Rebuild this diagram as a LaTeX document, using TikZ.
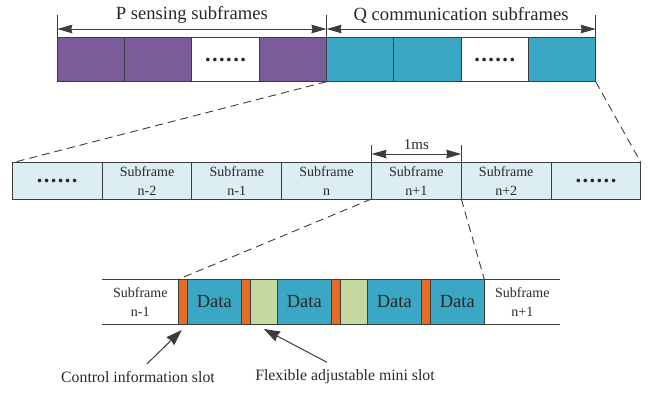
\documentclass[tikz,border=0pt]{standalone}
\usepackage{fontspec}
\setmainfont{Liberation Serif}
\usetikzlibrary{calc,positioning,arrows.meta}

\definecolor{sensepurple}{RGB}{122,92,154}
\definecolor{commteal}{RGB}{58,168,196}
\definecolor{framebg}{RGB}{220,238,244}
\definecolor{ctrlorange}{RGB}{232,108,36}
\definecolor{minigreen}{RGB}{197,216,160}
\definecolor{edgegray}{RGB}{60,60,60}
\definecolor{textgray}{RGB}{40,40,40}

\newcommand{\sixdots}{.\kern1.4pt.\kern1.4pt.\kern1.4pt.\kern1.4pt.\kern1.4pt.}

\begin{document}
\begin{tikzpicture}[
  x=1pt, y=-1pt, >=Stealth,
  every node/.style={text=textgray},
  dotrow/.style={font=\fontsize{22.5}{22.5}\selectfont\bfseries},
  topbox/.style={draw=edgegray, line width=1pt, outer sep=0pt, inner sep=0pt,
    minimum width=67.3pt, minimum height=44.4pt},
  cell/.style={draw=edgegray, line width=1pt, outer sep=0pt, inner sep=0pt,
    minimum width=89.8pt, minimum height=36.3pt, fill=framebg, align=center,
    font=\fontsize{14}{18.5}\selectfont},
  slot/.style={draw=edgegray, line width=1pt, outer sep=0pt, inner sep=0pt,
    minimum height=44.7pt, font=\fontsize{18.5}{22}\selectfont},
  ctrlslot/.style={slot, fill=ctrlorange, minimum width=9pt},
  dataslot/.style={slot, fill=commteal, minimum width=54pt},
  minislot/.style={slot, fill=minigreen, minimum width=27pt},
  sideframe/.style={outer sep=0pt, inner sep=0pt, minimum width=76pt,
    minimum height=44.7pt, align=center, font=\fontsize{14}{19}\selectfont},
  dimline/.style={line width=1pt, draw=edgegray,
    {Stealth[length=15pt,width=8.5pt,inset=1pt]}-{Stealth[length=15pt,width=8.5pt,inset=1pt]}},
  zoomline/.style={draw=edgegray, line width=0.9pt, dash pattern=on 8pt off 5pt},
  pointer/.style={draw=edgegray, line width=1pt, -{Stealth[length=16pt,width=11pt,inset=1pt]}},
  note/.style={font=\fontsize{15.8}{19}\selectfont}
]
  \useasboundingbox (0,0) rectangle (657,392);

  % frame of sensing and communication subframes
  \node[topbox, fill=sensepurple, anchor=north west] (p1) at (57.3,37.3) {};
  \node[topbox, fill=sensepurple, right=0pt of p1] (p2) {};
  \node[topbox, fill=white, right=0pt of p2, dotrow] (pdots) {\sixdots};
  \node[topbox, fill=sensepurple, right=0pt of pdots] (p4) {};
  \node[topbox, fill=commteal, right=0pt of p4] (q1) {};
  \node[topbox, fill=commteal, right=0pt of q1] (q2) {};
  \node[topbox, fill=white, right=0pt of q2, dotrow] (qdots) {\sixdots};
  \node[topbox, fill=commteal, right=0pt of qdots] (q4) {};

  \draw[edgegray, line width=1pt] (p1.north west) -- ++(0,-22.3);
  \draw[edgegray, line width=1pt] (q1.north west) -- ++(0,-22.3);
  \draw[edgegray, line width=1pt] (q4.north east) -- ++(0,-22.3);
  \draw[dimline] ($(p1.north west)+(0,-8.3)$) --
    node[above=2pt, font=\fontsize{18.6}{22}\selectfont] (plabel) {P sensing subframes}
    ($(q1.north west)+(0,-8.3)$);
  \draw[dimline] ($(q1.north west)+(0,-8.3)$) --
    node[above=2pt, font=\fontsize{18.6}{22}\selectfont] (qlabel) {Q communication subframes}
    ($(q4.north east)+(0,-8.3)$);

  % run of subframes
  \node[cell, anchor=north west, dotrow] (m1) at (12.3,162.7) {\sixdots};
  \node[cell, right=0pt of m1] (m2) {Subframe\\n-2};
  \node[cell, right=0pt of m2] (m3) {Subframe\\n-1};
  \node[cell, right=0pt of m3] (m4) {Subframe\\n};
  \node[cell, right=0pt of m4] (m5) {Subframe\\n+1};
  \node[cell, right=0pt of m5] (m6) {Subframe\\n+2};
  \node[cell, right=0pt of m6, dotrow] (m7) {\sixdots};

  \draw[edgegray, line width=1pt] (m5.north west) -- ++(0,-17.7);
  \draw[edgegray, line width=1pt] (m5.north east) -- ++(0,-17.7);
  \draw[dimline] ($(m5.north west)+(0,-8.7)$) --
    node[above=1pt, font=\fontsize{15}{18}\selectfont] (mslabel) {1ms}
    ($(m5.north east)+(0,-8.7)$);

  \draw[zoomline] (q1.south west) -- (m1.north west);
  \draw[zoomline] (q4.south east) -- (m7.north east);

  % inside one subframe
  \node[sideframe, anchor=north west] (sfprev) at (102.3,279.3) {Subframe\\n-1};
  \node[ctrlslot, right=0pt of sfprev] (c1) {};
  \node[dataslot, right=0pt of c1] (d1) {Data};
  \node[ctrlslot, right=0pt of d1] (c2) {};
  \node[minislot, right=0pt of c2] (g1) {};
  \node[dataslot, right=0pt of g1] (d2) {Data};
  \node[ctrlslot, right=0pt of d2] (c3) {};
  \node[minislot, right=0pt of c3] (g2) {};
  \node[dataslot, right=0pt of g2] (d3) {Data};
  \node[ctrlslot, right=0pt of d3] (c4) {};
  \node[dataslot, right=0pt of c4] (d4) {Data};
  \node[sideframe, right=0pt of d4] (sfnext) {Subframe\\n+1};

  \draw[edgegray, line width=1pt] (sfprev.north west) -- (sfnext.north east);
  \draw[edgegray, line width=1pt] (sfprev.south west) -- (sfnext.south east);

  \draw[zoomline] (m5.south west) -- (c1.north west);
  \draw[zoomline] (m5.south east) -- (d4.north east);

  \node[note] (ctrlnote) at (138,377) {Control information slot};
  \node[note] (flexnote) at (345,377) {Flexible adjustable mini slot};
  \draw[pointer] ($(ctrlnote.north)+(9,-4)$) -- ($(c1.south)+(-1,6)$);
  \draw[pointer] ($(flexnote.north)+(-18,-4)$) -- ($(g1.south)+(0,5)$);
\end{tikzpicture}
\end{document}
